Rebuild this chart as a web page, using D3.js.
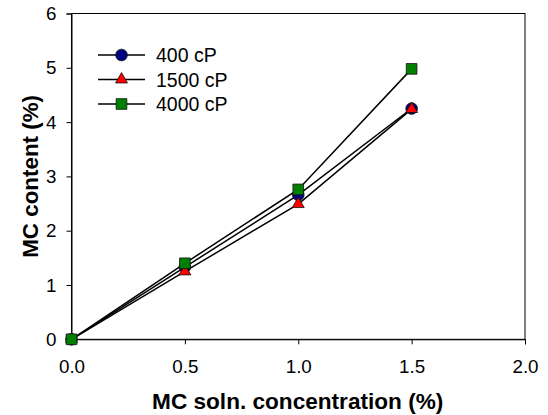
<!DOCTYPE html>
<html><head><meta charset="utf-8">
<script src="https://cdn.jsdelivr.net/npm/d3@7"></script>
<style>body{margin:0;background:#fff}svg{display:block}text{font-family:"Liberation Sans",Arial,sans-serif}</style>
</head><body>
<svg id="c" width="548" height="415"></svg>
<script>
const concentrations = [0, 0.5, 1.0, 1.5];
const cp400 = [0, 1.33, 2.66, 4.25];
const cp1500 = [0, 1.25, 2.49, 4.24];
const cp4000 = [0, 1.40, 2.76, 4.98];
const seriesNames = ["400 cP", "1500 cP", "4000 cP"];
const xTicks = [0, 0.5, 1.0, 1.5, 2.0];
const yTicks = [0, 1, 2, 3, 4, 5, 6];

const svg = d3.select("#c");
const L = 71.5, R = 525, T = 13.5, B = 339.3;
const x = d3.scaleLinear().domain([0, 2]).range([L, R]);
const y = d3.scaleLinear().domain([0, 6]).range([B, T]);

// frame
svg.append("rect").attr("x", L).attr("y", T).attr("width", R - L).attr("height", B - T)
  .attr("fill", "none").attr("stroke", "#000").attr("stroke-width", 1);

const xa = svg.append("g").attr("transform", `translate(0,${B})`)
  .call(d3.axisBottom(x).tickValues(xTicks).tickFormat(d3.format(".1f")).tickSize(5).tickPadding(15));
const ya = svg.append("g").attr("transform", `translate(${L},0)`)
  .call(d3.axisLeft(y).tickValues(yTicks).tickFormat(d3.format("d")).tickSize(5).tickPadding(10));
[xa, ya].forEach(a => {
  a.select(".domain").attr("stroke", "#000");
  a.selectAll("line").attr("stroke", "#000");
  a.selectAll("text").attr("font-size", 18.8).attr("fill", "#000")
    .style("font-family", '"Liberation Sans",Arial,sans-serif');
});

svg.append("text").attr("x", 297.7).attr("y", 409).attr("text-anchor", "middle")
  .attr("font-size", 22.6).attr("font-weight", "bold").text("MC soln. concentration (%)");
svg.append("text").attr("transform", `translate(38,${(T + B) / 2}) rotate(-90)`).attr("text-anchor", "middle")
  .attr("font-size", 22.4).attr("font-weight", "bold").text("MC content (%)");

const series = [
  {name: seriesNames[0], vals: cp400, color: "#000080", shape: "circle"},
  {name: seriesNames[1], vals: cp1500, color: "#ff0000", shape: "triangle"},
  {name: seriesNames[2], vals: cp4000, color: "#008000", shape: "square"}
];
function marker(g, s, cx, cy) {
  let sym;
  if (s.shape === "circle") sym = d3.symbol(d3.symbolCircle, 107);
  else if (s.shape === "triangle") sym = d3.symbol(d3.symbolTriangle, 62);
  else sym = d3.symbol(d3.symbolSquare, 114);
  g.append("path").attr("d", sym()).attr("transform", `translate(${cx},${cy})`)
    .attr("fill", s.color).attr("stroke", "#111").attr("stroke-width", 0.8);
}
const line = d3.line().x((d, i) => x(concentrations[i])).y(d => y(d));
series.forEach(s => {
  const g = svg.append("g");
  g.append("path").attr("d", line(s.vals)).attr("fill", "none").attr("stroke", "#000").attr("stroke-width", 1.5);
  s.vals.forEach((v, i) => marker(g, s, x(concentrations[i]), y(v)));
});

// legend
const ly = [55, 79.5, 104];
series.forEach((s, i) => {
  const g = svg.append("g");
  g.append("line").attr("x1", 98).attr("x2", 145).attr("y1", ly[i]).attr("y2", ly[i]).attr("stroke", "#000").attr("stroke-width", 1.5);
  marker(g, s, 121.5, ly[i]);
  g.append("text").attr("x", 156).attr("y", ly[i] + 7).attr("font-size", 19.5).text(s.name);
});
</script>
</body></html>
